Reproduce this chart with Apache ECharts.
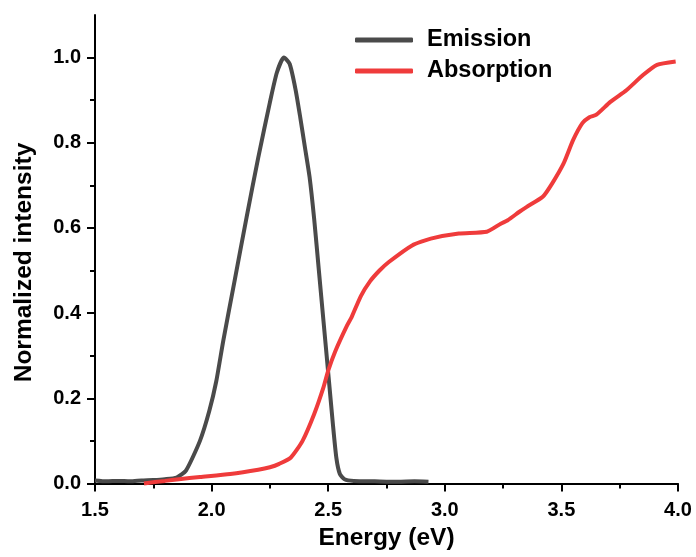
<!DOCTYPE html>
<html>
<head>
<meta charset="utf-8">
<script src="https://cdn.jsdelivr.net/npm/echarts@6/dist/echarts.min.js"></script>
<style>
html, body { margin: 0; padding: 0; background: #fff; }
#main { width: 696px; height: 557px; }
</style>
</head>
<body>
<div id="main"></div>
<script>
// emission spectrum [energy eV, normalized intensity]
var emissionData = [
	[1.50, 0.007], [1.55, 0.005], [1.60, 0.006], [1.65, 0.005], [1.70, 0.007],
	[1.75, 0.008], [1.80, 0.010], [1.85, 0.014], [1.89, 0.030], [1.95, 0.100],
	[1.99, 0.170], [2.02, 0.240], [2.05, 0.335], [2.10, 0.480], [2.15, 0.625],
	[2.20, 0.765], [2.25, 0.895], [2.28, 0.965], [2.31, 1.000], [2.335, 0.985],
	[2.36, 0.925], [2.38, 0.860], [2.40, 0.790], [2.42, 0.720], [2.44, 0.620],
	[2.46, 0.500], [2.48, 0.380], [2.50, 0.260], [2.52, 0.140], [2.535, 0.060],
	[2.55, 0.022], [2.57, 0.010], [2.61, 0.006], [2.70, 0.005], [2.80, 0.004],
	[2.87, 0.005], [2.93, 0.004]
];
// absorption spectrum
var absorptionData = [
	[1.71, 0.000], [1.80, 0.006], [1.86, 0.010], [1.95, 0.015], [2.08, 0.022],
	[2.20, 0.032], [2.25, 0.038], [2.29, 0.046], [2.34, 0.061], [2.39, 0.100],
	[2.44, 0.163], [2.48, 0.226], [2.50, 0.265], [2.53, 0.310], [2.58, 0.370],
	[2.60, 0.390], [2.64, 0.440], [2.68, 0.475], [2.72, 0.500], [2.76, 0.520],
	[2.86, 0.559], [2.94, 0.575], [3.06, 0.587], [3.18, 0.591], [3.24, 0.610],
	[3.27, 0.618], [3.32, 0.638], [3.35, 0.649], [3.42, 0.673], [3.46, 0.704],
	[3.51, 0.752], [3.55, 0.806], [3.59, 0.846], [3.62, 0.860], [3.65, 0.866],
	[3.71, 0.896], [3.78, 0.924], [3.85, 0.959], [3.91, 0.983], [3.99, 0.991]
];
var yMajorTicks = [0, 0.2, 0.4, 0.6, 0.8, 1.0];
var yMinorTicks = [0.1, 0.3, 0.5, 0.7, 0.9];

var myChart = echarts.init(document.getElementById('main'));
var fontName = 'Liberation Sans, Arial, sans-serif';
var option = {
	backgroundColor: '#fff',
	animation: false,
	legend: {
		orient: 'vertical',
		left: 355,
		top: 28,
		padding: 0,
		itemWidth: 58,
		itemHeight: 5,
		itemGap: 7,
		icon: 'roundRect',
		textStyle: {
			fontFamily: fontName,
			fontWeight: 'bold',
			fontSize: 23.5,
			lineHeight: 24,
			color: '#000',
			padding: [0, 0, 0, 9]
		},
		data: ['Emission', 'Absorption']
	},
	grid: {
		left: 95,
		right: 18,
		top: 15,
		bottom: 71
	},
	xAxis: {
		type: 'value',
		min: 1.5,
		max: 4.0,
		interval: 0.5,
		name: 'Energy (eV)',
		nameLocation: 'middle',
		nameGap: 40,
		nameTextStyle: {
			fontFamily: fontName,
			fontWeight: 'bold',
			fontSize: 24.5,
			color: '#000'
		},
		axisLine: { lineStyle: { color: '#000', width: 2 } },
		axisTick: { inside: false, length: 8, lineStyle: { color: '#000', width: 2 } },
		minorTick: { show: true, splitNumber: 2, length: 5, lineStyle: { color: '#000', width: 2 } },
		splitLine: { show: false },
		axisLabel: {
			margin: 14,
			fontFamily: fontName,
			fontWeight: 'bold',
			fontSize: 20,
			color: '#000',
			formatter: function(v) { return v.toFixed(1); }
		}
	},
	yAxis: [{
		type: 'value',
		min: -0.006,
		max: 1.1,
		name: 'Normalized intensity',
		nameLocation: 'middle',
		nameGap: 58,
		nameTextStyle: {
			fontFamily: fontName,
			fontWeight: 'bold',
			fontSize: 24.5,
			color: '#000',
			padding: [0, 24, 0, 0]
		},
		axisLine: { show: true, lineStyle: { color: '#000', width: 2 } },
		axisTick: { show: true, inside: false, length: 8, customValues: yMajorTicks, lineStyle: { color: '#000', width: 2 } },
		splitLine: { show: false },
		axisLabel: {
			margin: 14,
			fontFamily: fontName,
			fontWeight: 'bold',
			fontSize: 20,
			color: '#000',
			customValues: yMajorTicks,
			formatter: function(v) { return v.toFixed(1); }
		}
	}, {
		// minor ticks only
		type: 'value',
		position: 'left',
		min: -0.006,
		max: 1.1,
		axisLine: { show: false },
		axisTick: { show: true, inside: false, length: 5, customValues: yMinorTicks, lineStyle: { color: '#000', width: 2 } },
		splitLine: { show: false },
		axisLabel: { show: false }
	}],
	series: [{
		name: 'Emission',
		type: 'line',
		data: emissionData,
		showSymbol: false,
		smooth: 0.2,
		color: '#4a4a4a',
		lineStyle: { width: 4, color: '#4a4a4a' }
	}, {
		name: 'Absorption',
		type: 'line',
		data: absorptionData,
		showSymbol: false,
		smooth: 0.2,
		color: '#ef3b3b',
		lineStyle: { width: 4, color: '#ef3b3b' }
	}]
};
myChart.setOption(option);
</script>
</body>
</html>
